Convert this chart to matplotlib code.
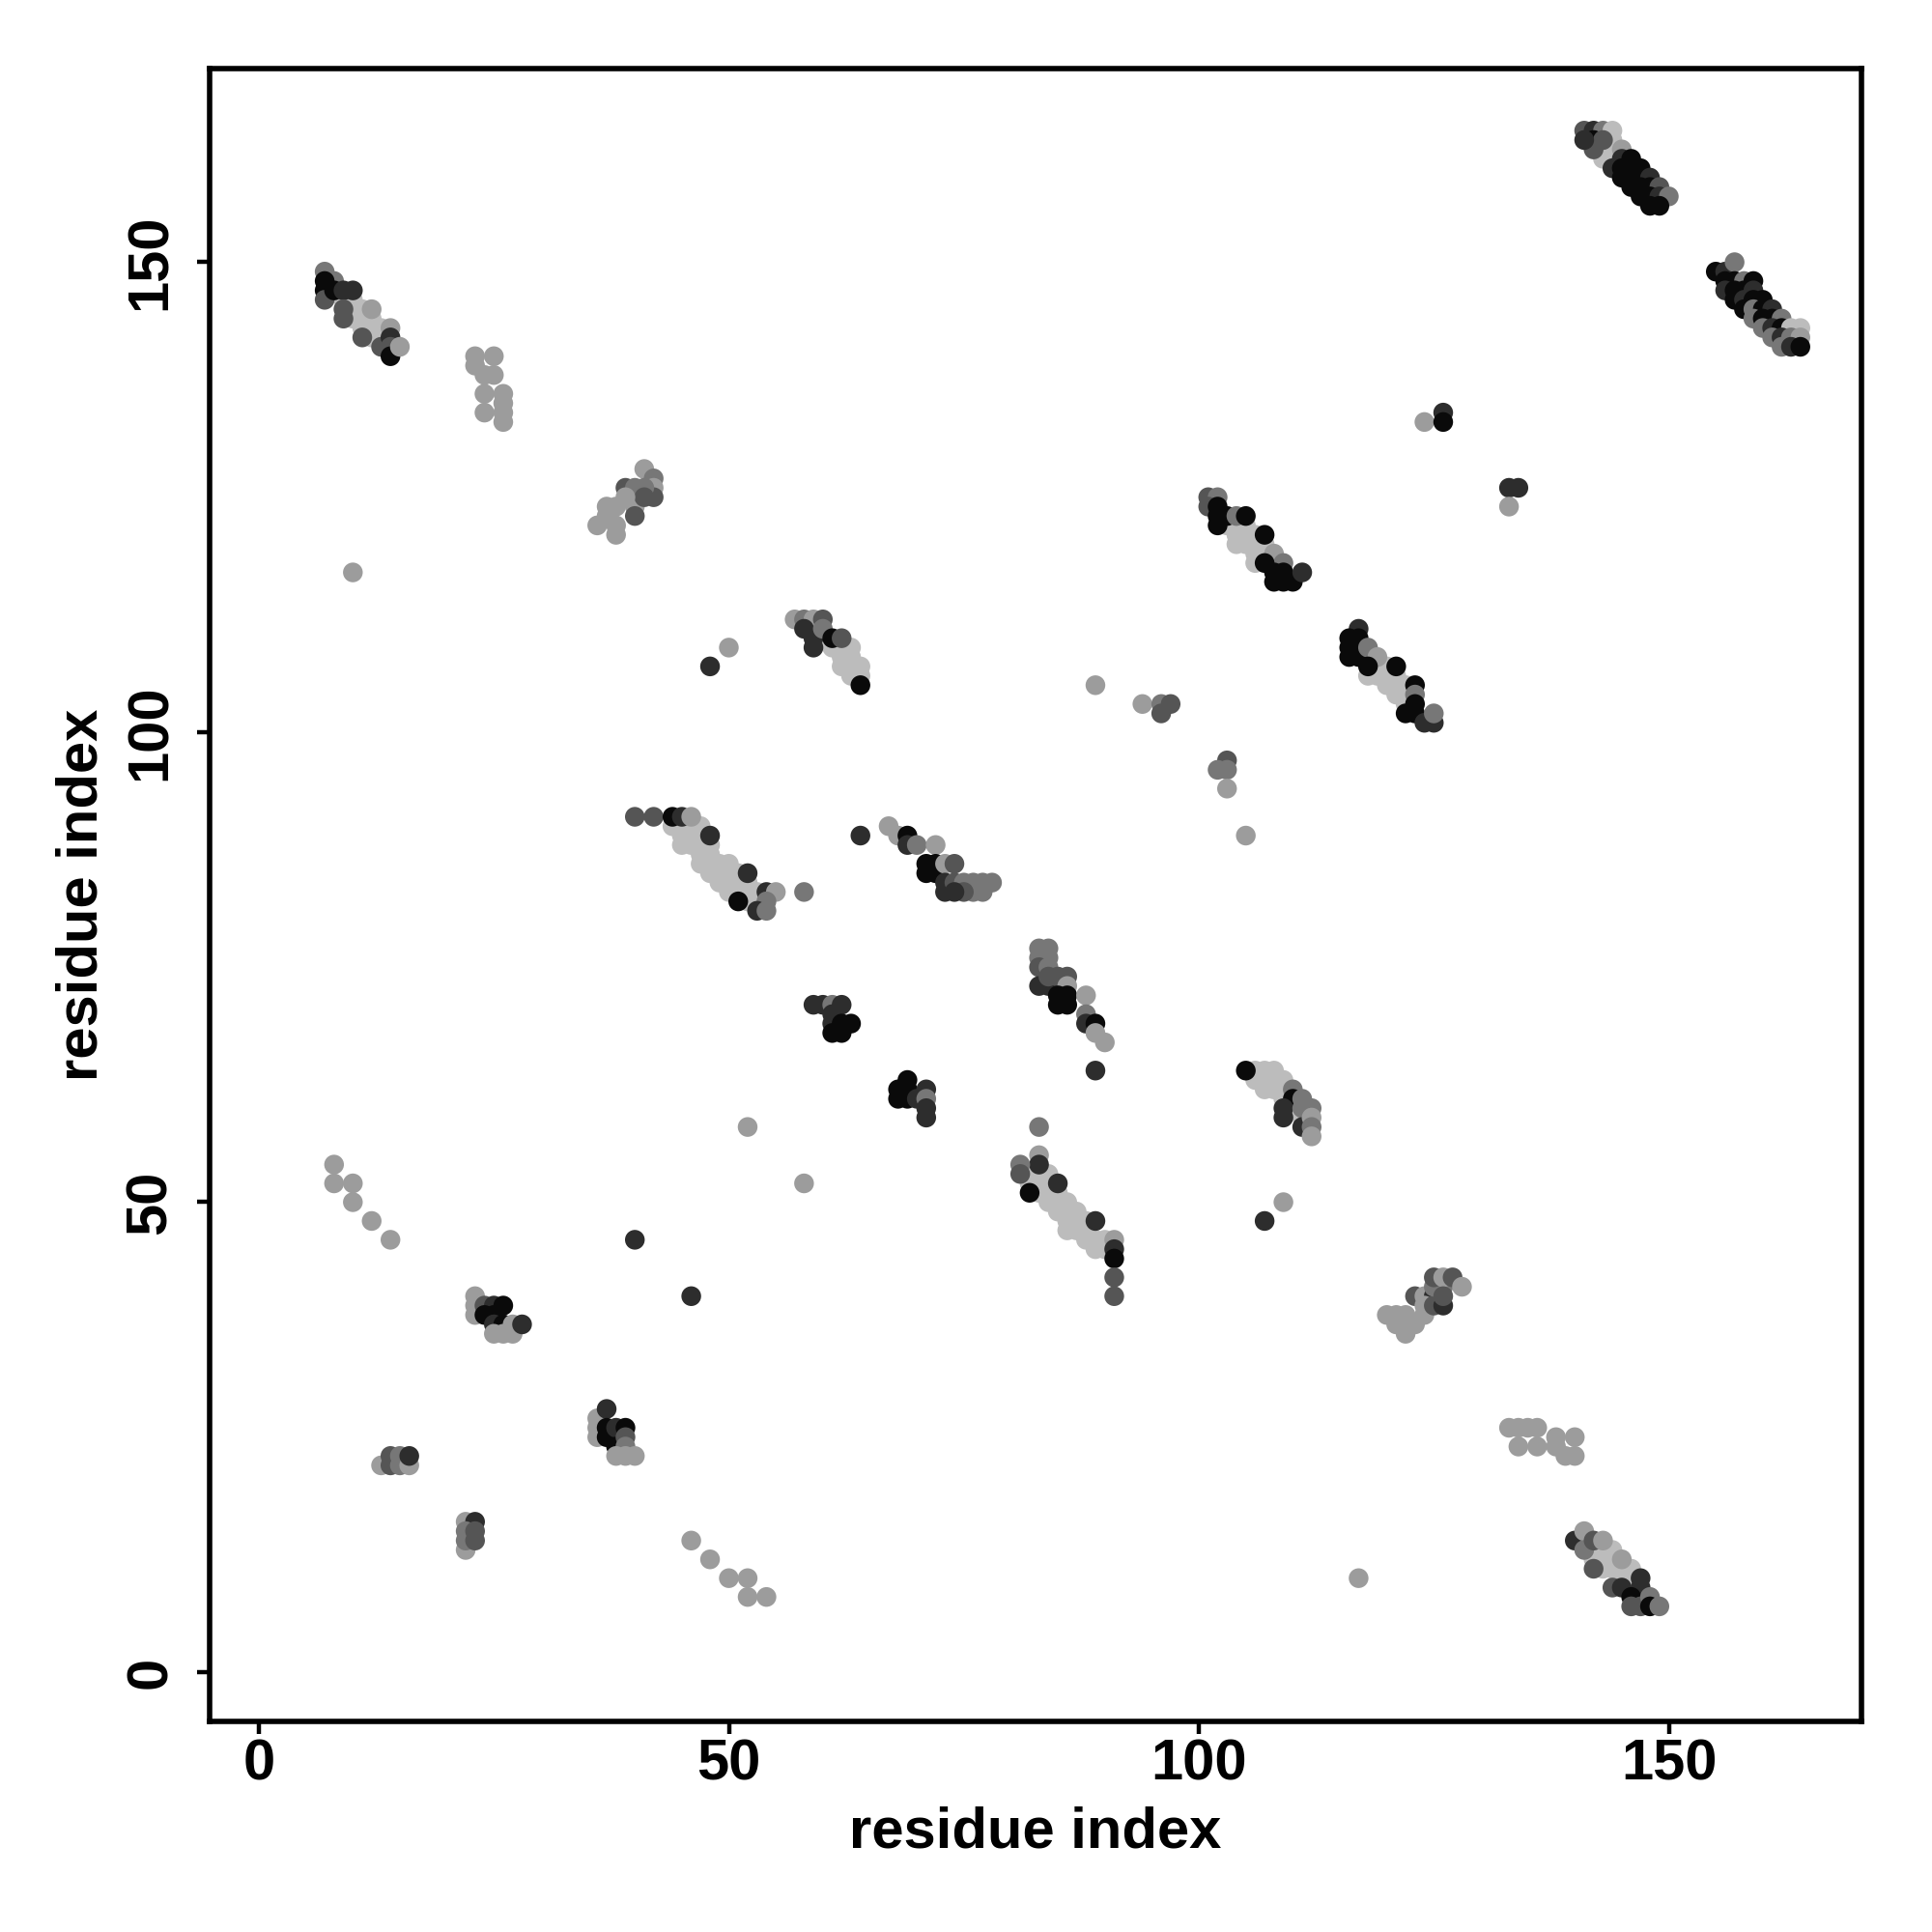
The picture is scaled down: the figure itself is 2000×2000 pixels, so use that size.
import matplotlib
matplotlib.use("Agg")
import matplotlib.pyplot as plt
import numpy as np

plt.rcParams['font.family'] = ['Liberation Sans', 'DejaVu Sans']

# grey levels (0 = darkest ... 5 = lightest)
gray_levels = ['#0a0a0a', '#2d2d2d', '#555555', '#777777', '#9c9c9c', '#bcbcbc']

# contacts: (residue i, residue j, grey level)
c_a = [(9,146,5),(10,146,5),(10,145,5),(11,145,5),(10,144,5),(11,144,5),(12,144,5),(11,143,5),(12,143,5),
       (13,143,5),(12,142,5),(13,142,5),
       (7,149,3),(8,148,3),(7,148,0),(7,147,0),(7,146,2),(8,147,0),(9,147,1),(10,147,1),(9,145,2),(9,144,2),
       (12,145,4),(11,142,2),(13,141,2),(14,143,4),(14,142,1),(14,141,2),(14,140,0),(15,141,4)]
c_b = [(23,140,4),(25,140,4),(23,139,4),(24,138,4),(25,138,4),(24,136,4),(24,134,4),(26,136,4),(26,135,4),
       (26,134,4),(26,133,4)]
c_c = [(10,117,4),(41,128,4),(42,127,3),(42,126,4),(42,125,2),(39,126,2),(40,126,3),(41,126,3),(40,124,4),
       (40,123,2),(37,124,4),(38,124,4),(36,122,4),(37,123,4),(38,122,4),(38,121,4),(41,125,2),(39,125,4)]
c_d = [(60,110,5),(61,109,5),(62,109,5),(62,108,5),(63,108,5),(63,107,5),(64,107,5),(64,106,5),(62,107,5),
       (63,106,5),(63,109,5),
       (48,107,1),(50,109,4),(57,112,4),(58,112,3),(59,112,4),(60,112,2),(58,111,1),(59,110,1),(59,109,1),
       (60,111,3),(61,110,0),(62,110,2),(64,105,0)]
c_e = [(44,90,5),(45,90,5),(46,90,5),(47,90,5),(45,89,5),(46,89,5),(47,89,5),(45,88,5),(46,88,5),(47,88,5),
       (48,88,5),(47,87,5),(48,87,5),(47,86,5),(48,86,5),(49,86,5),(50,86,5),(48,85,5),(49,85,5),(50,85,5),
       (51,85,5),(49,84,5),(50,84,5),(51,84,5),(52,84,5),(50,83,5),(51,83,5),(52,83,5),(52,82,5),(53,82,5),
       (53,83,5),
       (40,91,2),(42,91,2),(44,91,0),(45,91,1),(46,91,4),(48,89,1),(52,85,1),(51,82,0),(54,83,1),(55,83,4),
       (54,82,3),(53,81,1),(54,81,3),(58,83,3)]
c_f = [(64,89,1),(67,90,4),(68,89,4),(69,89,0),(69,88,1),(70,88,3),(72,88,4),(71,86,0),(71,85,0),(72,86,0),
       (72,85,0),(73,86,4),(74,86,2),(73,84,1),(73,83,1),(74,84,2),(75,84,3),(76,84,3),(77,84,3),(76,83,3),
       (77,83,3),(78,84,3),(75,83,2),(74,83,1)]
c_g = [(59,71,1),(60,71,1),(61,71,3),(62,71,1),(61,70,1),(61,69,1),(62,69,0),(63,69,0),(61,68,0),(62,68,0)]
c_h = [(69,63,0),(68,62,0),(69,62,0),(71,62,1),(68,61,0),(69,61,0),(70,61,1),(71,61,3),(71,60,1),(71,59,1)]
c_i = [(83,77,3),(84,77,3),(83,76,3),(84,76,3),(83,75,2),(84,75,3),(83,73,1),(84,73,1),(84,74,2),(85,74,2),
       (86,74,2),(86,73,4),(85,72,0),(86,72,0),(85,71,0),(86,71,0),(88,72,4),(88,70,3),(88,69,1),(89,69,0),
       (89,68,4),(90,67,4),(89,64,1)]
c_j = [(82,53,5),(83,53,5),(84,53,5),(82,52,5),(83,52,5),(84,52,5),(83,51,5),(84,51,5),(85,51,5),(84,50,5),
       (85,50,5),(86,50,5),(85,49,5),(86,49,5),(87,49,5),(86,48,5),(87,48,5),(86,47,5),(87,47,5),(88,47,5),
       (88,46,5),(89,46,5),(89,45,5),(90,45,5),(88,48,5),(90,46,5),
       (52,58,4),(58,52,4),(83,58,3),(83,55,4),(83,54,1),(81,54,3),(81,53,2),(82,51,0),(85,52,1),(89,48,1),
       (91,46,4),(91,45,1),(91,44,0),(91,42,2),(91,40,2)]
c_k = [(8,54,4),(8,52,4),(10,52,4),(10,50,4),(12,48,4),(14,46,4),(40,46,1),(46,40,1)]
c_l = [(23,40,4),(23,39,4),(23,38,4),(24,39,2),(25,39,1),(26,39,0),(24,38,0),(25,38,0),(25,37,1),(26,37,0),
       (25,36,4),(26,36,4),(27,36,4),(27,37,4),(28,37,1)]
c_m = [(13,22,4),(14,23,2),(14,22,2),(15,23,3),(15,22,3),(16,22,4),(16,23,1)]
c_n = [(22,13,4),(22,16,4),(23,16,1),(22,15,3),(22,14,3),(23,15,2),(23,14,2)]
c_o = [(36,27,4),(36,26,4),(36,25,4),(37,28,1),(37,26,0),(37,25,0),(38,26,1),(39,26,0),(38,24,0),(39,25,2),
       (39,24,3),(38,23,4),(39,23,4),(40,23,4)]
c_p = [(46,14,4),(48,12,4),(50,10,4),(52,10,4),(52,8,4),(54,8,4)]
c_q = [(103,122,5),(104,122,5),(105,122,5),(104,121,5),(105,121,5),(106,121,5),(104,120,5),(105,120,5),
       (106,120,5),(107,120,5),(106,119,5),(107,119,5),(106,118,5),
       (101,125,2),(102,125,3),(101,124,2),(102,124,0),(102,123,0),(103,123,0),(104,123,3),(105,123,0),
       (102,122,0),(107,121,0),(108,119,4),(109,118,3),(107,118,0),(108,117,0),(109,117,0),(108,116,0),
       (109,116,0),(110,116,0),(111,117,1)]
c_r = [(119,107,5),(120,107,5),(119,106,5),(120,106,5),(121,106,5),(120,105,5),(121,105,5),(122,105,5),
       (121,104,5),(122,104,5),(122,103,5),(118,106,5),
       (117,111,1),(116,110,0),(116,109,0),(116,108,0),(117,110,0),(117,109,0),(117,108,0),(118,109,3),
       (119,108,4),(118,107,0),(121,107,0),(123,105,0),(123,104,3),(122,102,0),(123,103,0),(123,102,0),
       (124,101,1),(125,101,1),(125,102,3)]
c_s = [(89,105,4),(94,103,4),(96,103,3),(97,103,2),(96,102,2),(103,97,2),(102,96,3),(103,96,3),(103,94,4),
       (105,89,4)]
c_t = [(106,64,5),(107,64,5),(108,64,5),(106,63,5),(107,63,5),(108,63,5),(109,63,5),(107,62,5),(108,62,5),
       (109,62,5),(109,61,5),(110,60,5),(111,59,5),
       (105,64,0),(110,62,3),(110,61,0),(109,60,1),(109,59,1),(111,61,3),(111,60,3),(112,60,3),(111,58,1),
       (112,59,4),(112,58,3),(112,57,4),(109,50,4),(107,48,1)]
c_u = [(120,38,4),(121,38,4),(122,38,4),(121,37,4),(122,37,4),(122,36,4),(123,37,4),(124,38,4),(123,40,2),
       (124,40,4),(125,40,1),(124,39,4),(125,39,2),(126,39,1),(125,41,3),(126,41,3),(125,42,2),(126,42,4),
       (127,42,2),(128,41,4),(126,40,2)]
c_v = [(133,26,4),(134,26,4),(135,26,4),(136,26,4),(134,24,4),(136,24,4),(138,25,4),(140,25,4),(138,24,4),
       (139,23,4),(140,23,4),(117,10,4)]
c_w = [(143,13,5),(144,13,5),(143,12,5),(144,12,5),(145,11,5),(144,11,5),(145,10,5),(146,10,5),(146,11,5),
       (143,11,5),(142,12,5),
       (140,14,1),(141,15,4),(141,13,3),(142,14,2),(143,14,4),(142,11,2),(145,12,4),(144,9,2),(145,9,1),
       (147,10,1),(147,9,1),(146,8,0),(146,7,2),(147,7,2),(148,8,3),(148,7,0),(149,7,3)]
c_x = [(124,133,4),(126,134,1),(126,133,0),(133,126,1),(134,126,1),(133,124,4)]
c_z = [(143,162,5),(144,162,5),(144,163,5),(143,161,5),(144,161,5),
       (141,164,2),(142,164,1),(143,164,3),(144,164,5),(142,163,0),(143,163,2),(142,162,2),(141,163,1),
       (145,162,4),(144,160,1),(145,161,1),(146,161,0),(145,160,0),(146,160,0),(147,160,0),(145,159,0),
       (146,159,0),(147,159,0),(148,159,1),(146,158,0),(147,158,0),(148,158,0),(149,158,2),(147,157,0),
       (148,157,0),(149,157,1),(150,157,3),(148,156,0),(149,156,0)]
c_aa = [(155,149,0),(156,149,1),(157,150,3),(156,148,0),(157,148,0),(158,148,3),(159,148,0),(156,147,1),
        (157,147,0),(158,147,0),(159,147,1),(157,146,0),(158,146,1),(159,146,0),(160,146,0),(158,145,0),
        (159,145,3),(160,145,0),(161,145,1),(159,144,3),(160,144,0),(161,144,0),(162,144,3),(160,143,3),
        (161,143,1),(162,143,0),(163,143,5),(164,143,5),(161,142,3),(162,142,1),(163,142,3),(164,142,4),
        (162,141,3),(163,141,1),(164,141,0)]

tick_values = [0, 50, 100, 150]
axis_title = 'residue index'

clusters = [c_a, c_b, c_c, c_d, c_e, c_f, c_g, c_h, c_i, c_j, c_k, c_l, c_m, c_n, c_o, c_p,
            c_q, c_r, c_s, c_t, c_u, c_v, c_w, c_x, c_z, c_aa]
pts = np.array([p for c in clusters for p in c])
xs, ys, lv = pts[:, 0], pts[:, 1], pts[:, 2].astype(int)
cols = [gray_levels[k] for k in lv]

fig = plt.figure(figsize=(10, 10), dpi=200)
ax = fig.add_axes([0.1085, 0.109, 0.855, 0.8555])
ax.scatter(xs, ys, s=54, c=cols, edgecolors='none')

ax.set_xlim(-5.24, 170.5)
ax.set_ylim(-5.24, 170.6)
for sp in ax.spines.values():
    sp.set_linewidth(2.0)
ax.set_xticks(tick_values)
ax.set_yticks(tick_values)
ax.set_xticklabels([str(v) for v in tick_values], fontsize=21.5, fontweight='bold')
ax.set_yticklabels([str(v) for v in tick_values], fontsize=21.5, fontweight='bold',
                   rotation=90, va='center')
ax.tick_params(axis='both', direction='out', length=4.6, width=1.6)
ax.tick_params(axis='x', pad=1.7)
ax.tick_params(axis='y', pad=7.3)

ax.set_xlabel(axis_title, fontsize=21.5, fontweight='bold', va='center')
ax.xaxis.set_label_coords(0.5, -0.0672)
ax.set_ylabel(axis_title, fontsize=21.5, fontweight='bold', va='center')
ax.yaxis.set_label_coords(-0.0772, 0.5)

fig.savefig('out.png', dpi=200, facecolor='white')
